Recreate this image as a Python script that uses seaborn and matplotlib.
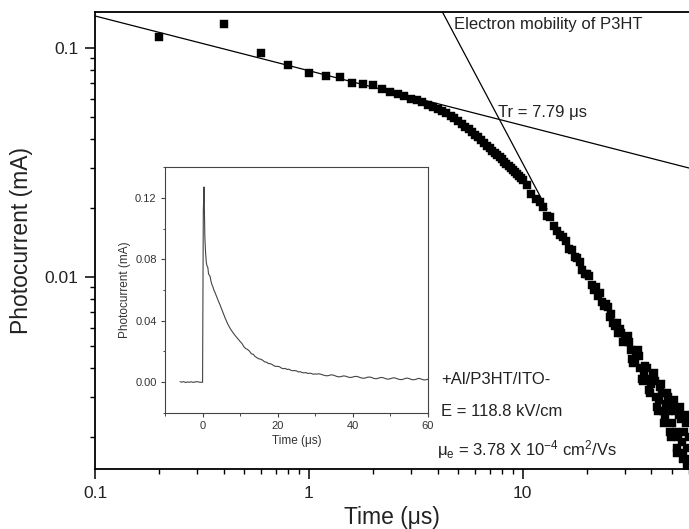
import numpy as np
import pandas as pd
import matplotlib
matplotlib.use("Agg")
import matplotlib.pyplot as plt
import seaborn as sns
from matplotlib.ticker import LogLocator, NullFormatter, MultipleLocator

# ---------------- data ----------------
t_early = [0.2, 0.4, 0.6, 0.8, 1.0, 1.2, 1.4, 1.6, 1.8, 2.0,
           2.2, 2.4, 2.6, 2.8, 3.0, 3.2, 3.4, 3.6, 3.8, 4.0,
           4.2, 4.4, 4.6, 4.8, 5.0, 5.2, 5.4, 5.6, 5.8, 6.0,
           6.2, 6.4, 6.6, 6.8, 7.0, 7.2, 7.4, 7.6, 7.8, 8.0,
           8.2, 8.4, 8.6, 8.8, 9.0, 9.2, 9.4, 9.6, 9.8, 10.0]
i_early = [0.112, 0.127, 0.095, 0.0843, 0.0778, 0.0755, 0.0747, 0.0704, 0.0697, 0.0689,
           0.0662, 0.0642, 0.0629, 0.0617, 0.0600, 0.0591, 0.0579, 0.0566, 0.0553, 0.0541,
           0.0529, 0.0518, 0.0506, 0.0494, 0.0481, 0.0468, 0.0454, 0.0442, 0.0430, 0.0418,
           0.0407, 0.0395, 0.0385, 0.0374, 0.0365, 0.0356, 0.0348, 0.0340, 0.0333, 0.0326,
           0.0319, 0.0313, 0.0306, 0.0300, 0.0294, 0.0288, 0.0283, 0.0277, 0.0271, 0.0265]

t_tail = [10.5, 11.0, 11.5, 12.0, 12.5, 13.0, 13.5, 14.0, 14.5, 15.0,
          15.5, 16.0, 16.5, 17.0, 17.5, 18.0, 18.5, 19.0, 19.5, 20.0,
          20.5, 21.0, 21.5, 22.0, 22.5, 23.0, 23.5, 24.0, 24.5, 25.0,
          25.5, 26.0, 26.5, 27.0, 27.5, 28.0, 28.5, 29.0, 29.5, 30.0,
          30.5, 31.0, 31.5, 32.0, 32.5, 33.0, 33.5, 34.0, 34.5, 35.0,
          35.5, 36.0, 36.5, 37.0, 37.5, 38.0, 38.5, 39.0, 39.5, 40.0,
          40.5, 41.0, 41.5, 42.0, 42.5, 43.0, 43.5, 44.0, 44.5, 45.0,
          45.5, 46.0, 46.5, 47.0, 47.5, 48.0, 48.5, 49.0, 49.5, 50.0,
          50.5, 51.0, 51.5, 52.0, 52.5, 53.0, 53.5, 54.0, 54.5, 55.0,
          55.5, 56.0, 56.5, 57.0, 57.5, 58.0, 58.5, 59.0, 59.5, 60.0]
i_tail = [0.0252, 0.0231, 0.0219, 0.0213, 0.0202, 0.0185, 0.0182, 0.0167, 0.0159, 0.0152,
          0.0150, 0.0143, 0.0133, 0.0131, 0.0122, 0.0121, 0.0116, 0.0107, 0.0103, 0.0103,
          0.0101, 0.0092, 0.0088, 0.0090, 0.0083, 0.0085, 0.0078, 0.0075, 0.0076, 0.0074,
          0.0067, 0.0069, 0.0063, 0.0061, 0.0063, 0.0057, 0.0059, 0.0057, 0.0052, 0.0054,
          0.0053, 0.0055, 0.0052, 0.0048, 0.0044, 0.0042, 0.0043, 0.0047, 0.0048, 0.0045,
          0.0040, 0.0036, 0.0035, 0.0038, 0.0041, 0.0040, 0.0036, 0.0032, 0.0031, 0.0034,
          0.0037, 0.0038, 0.0035, 0.0030, 0.0027, 0.0026, 0.0029, 0.0033, 0.0034, 0.0031,
          0.0026, 0.0023, 0.0024, 0.0028, 0.0031, 0.0030, 0.0026, 0.0021, 0.0020, 0.0023,
          0.0027, 0.0029, 0.0026, 0.0021, 0.0018, 0.0017, 0.0020, 0.0025, 0.0027, 0.0024,
          0.0019, 0.0016, 0.0017, 0.0021, 0.0025, 0.0023, 0.0018, 0.0015, 0.0016, 0.0020]

# pre-trigger baseline shown in the inset
t_base = [-6.0, -5.5, -5.0, -4.5, -4.0, -3.5, -3.0, -2.5, -2.0, -1.5, -1.0, -0.5, 0.0]
i_base = [0.0003, 0.0001, 0.0004, -0.0002, 0.0002, 0.0000, 0.0003, -0.0001,
          0.0002, 0.0004, 0.0001, 0.0000, 0.0000]

# fit lines (power laws on log-log axes)
fit1_amp, fit1_t0, fit1_exp = 0.138, 0.1, -0.239   # pre-transit
fit2_exp = -1.76                                    # post-transit
tr = 7.79                                           # transit time (us)
fit1_range = [0.1, 60.0]
fit2_range = [4.05, 13.0]

x_ticks = [0.1, 1, 10]
x_labels = ["0.1", "1", "10"]
y_ticks = [0.01, 0.1]
y_labels = ["0.01", "0.1"]
in_xticks = [0, 20, 40, 60]
in_yticks = [0.00, 0.04, 0.08, 0.12]
in_ylabels = ["0.00", "0.04", "0.08", "0.12"]

# ---------------- figure ----------------
sns.set_style("ticks")
plt.rcParams['font.family'] = ['Liberation Sans', 'DejaVu Sans']
plt.rcParams['mathtext.fontset'] = 'custom'
plt.rcParams['mathtext.rm'] = 'Liberation Sans'
plt.rcParams['mathtext.it'] = 'Liberation Sans'
plt.rcParams['mathtext.default'] = 'regular'

fig = plt.figure(figsize=(6.89, 5.29), dpi=100)
ax = fig.add_axes([0.1379, 0.1134, 0.8621, 0.8639])

main = pd.DataFrame({"t": t_early + t_tail, "i": i_early + i_tail})
sns.scatterplot(data=main, x="t", y="i", ax=ax, marker="s", s=30,
                color="black", edgecolor="black", linewidth=0.3, legend=False, zorder=3)

ax.set_xscale("log")
ax.set_yscale("log")
ax.set_xlim(0.1, 60)
ax.set_ylim(0.00145, 0.1436)

def fit1(t):
    return fit1_amp * (np.asarray(t) / fit1_t0) ** fit1_exp

tr_i = fit1(tr)
def fit2(t):
    return tr_i * (np.asarray(t) / tr) ** fit2_exp

f1 = pd.DataFrame({"t": fit1_range, "i": fit1(fit1_range)})
f2 = pd.DataFrame({"t": fit2_range, "i": fit2(fit2_range)})
sns.lineplot(data=f1, x="t", y="i", ax=ax, color="black", linewidth=0.9, zorder=4)
sns.lineplot(data=f2, x="t", y="i", ax=ax, color="black", linewidth=0.9, zorder=4)

ax.set_xticks(x_ticks, labels=x_labels)
ax.set_yticks(y_ticks, labels=y_labels)
ax.xaxis.set_minor_locator(LogLocator(base=10, subs=np.arange(2, 10)))
ax.yaxis.set_minor_locator(LogLocator(base=10, subs=np.arange(2, 10)))
ax.xaxis.set_minor_formatter(NullFormatter())
ax.yaxis.set_minor_formatter(NullFormatter())
ax.tick_params(which="major", direction="out", length=7, width=1.1,
               labelsize=12.5, pad=5, color="black", labelcolor="#222222")
ax.tick_params(which="minor", direction="out", length=3.8, width=1.0, color="black")
ax.tick_params(top=False, right=False, which="both")
for sp in ["left", "bottom", "top"]:
    ax.spines[sp].set_linewidth(1.3)
    ax.spines[sp].set_color("black")
ax.spines["right"].set_visible(False)

ax.set_xlabel("Time (μs)", fontsize=16.5, color="#222222", labelpad=4)
ax.set_ylabel("Photocurrent (mA)", fontsize=16.5, color="#222222", labelpad=8)

# annotations
tc = "#222222"
fig.text(454/689, 1-25/529, "Electron mobility of P3HT", fontsize=12, va="center", ha="left", color=tc)
fig.text(498/689, 1-113/529, "Tr = 7.79 μs", fontsize=12, va="center", ha="left", color=tc)
fig.text(441/689, 1-380/529, "+Al/P3HT/ITO-", fontsize=12, va="center", ha="left", color=tc)
fig.text(441/689, 1-412/529, "E = 118.8 kV/cm", fontsize=12, va="center", ha="left", color=tc)
fig.text(437/689, 1-455/529, "μ$_e$ = 3.78 X 10$^{-4}$ cm$^2$/Vs", fontsize=12,
         va="baseline", ha="left", color=tc)

# ---------------- inset ----------------
axi = fig.add_axes([0.2395, 0.2193, 0.3815, 0.4650])
ins = pd.DataFrame({"t": t_base + t_early + t_tail, "i": i_base + i_early + i_tail})
sns.lineplot(data=ins, x="t", y="i", ax=axi, color="#444444", linewidth=0.8,
             sort=False, estimator=None)
axi.set_xlim(-10, 60)
axi.set_ylim(-0.02, 0.14)
axi.set_xticks(in_xticks)
axi.set_yticks(in_yticks, labels=in_ylabels)
axi.xaxis.set_minor_locator(MultipleLocator(10))
axi.yaxis.set_minor_locator(MultipleLocator(0.02))
axi.tick_params(which="major", direction="out", length=3, width=0.8,
                labelsize=8, pad=3, color="#444444", labelcolor="#333333")
axi.tick_params(which="minor", direction="out", length=1.8, width=0.7, color="#444444")
for sp in axi.spines.values():
    sp.set_linewidth(0.8)
    sp.set_color("#444444")
axi.set_xlabel("Time (μs)", fontsize=8.5, color="#333333", labelpad=3)
axi.set_ylabel("Photocurrent (mA)", fontsize=8.5, color="#333333", labelpad=3)

fig.savefig("out.png", dpi=100)
